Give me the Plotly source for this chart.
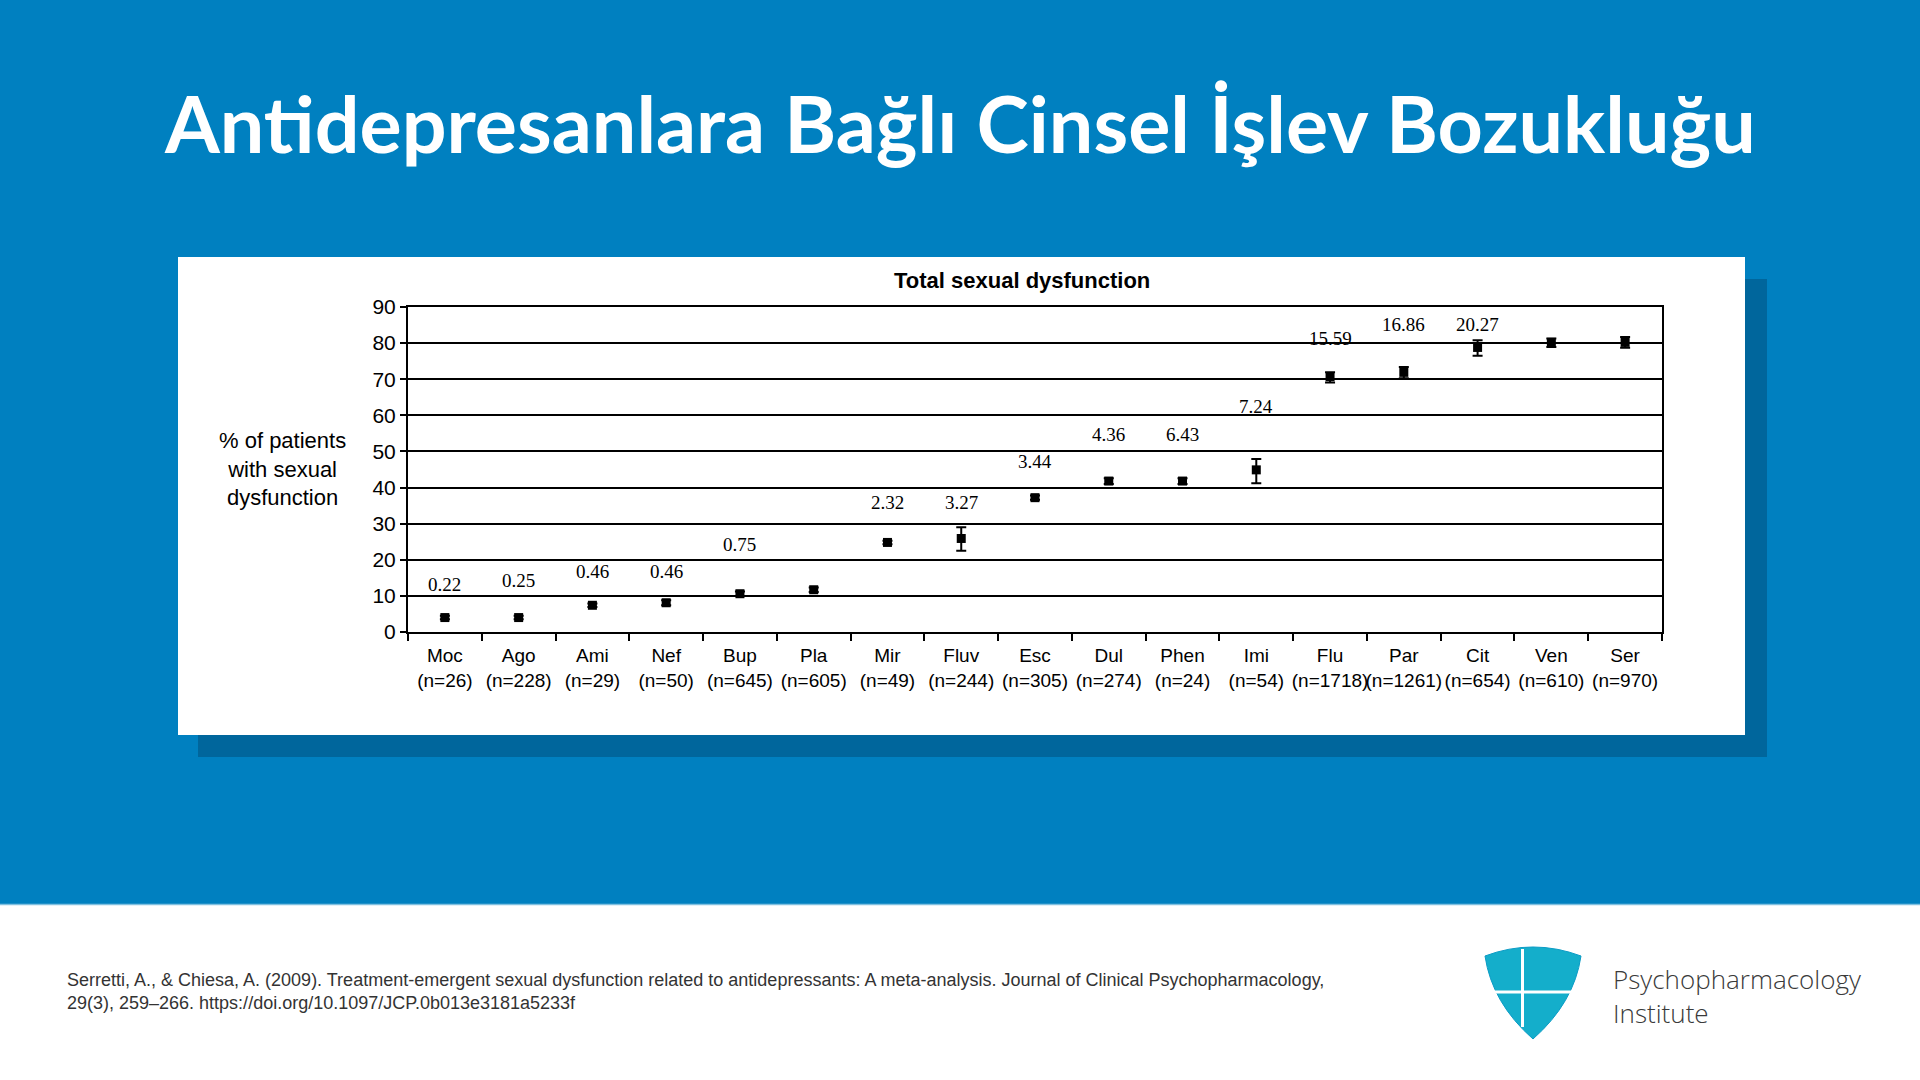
import plotly.graph_objects as go

# ---------------- data ----------------
drugs = ["Moc", "Ago", "Ami", "Nef", "Bup", "Pla", "Mir", "Fluv", "Esc",
         "Dul", "Phen", "Imi", "Flu", "Par", "Cit", "Ven", "Ser"]
n_patients = [26, 228, 29, 50, 645, 605, 49, 244, 305, 274, 24, 54,
              1718, 1261, 654, 610, 970]
pct = [4.0, 4.0, 7.4, 8.1, 10.6, 11.7, 24.8, 25.9, 37.2, 41.8, 41.8, 44.9,
       70.7, 71.9, 78.8, 80.2, 80.2]
err_plus = [0.5, 0.5, 0.5, 0.7, 0.6, 0.6, 0.5, 3.1, 0.6, 0.8, 0.8, 3.0,
            1.2, 1.5, 2.0, 1.1, 1.5]
err_minus = [0.5, 0.5, 0.5, 0.7, 0.6, 0.6, 0.5, 3.4, 0.6, 0.8, 0.8, 3.7,
             1.6, 1.6, 2.3, 1.3, 1.5]
odds_labels = ["0.22", "0.25", "0.46", "0.46", "0.75", "", "2.32", "3.27",
               "3.44", "4.36", "6.43", "7.24", "15.59", "16.86", "20.27",
               "24.82", "27.43"]
label_y = [13.1, 14.2, 16.7, 16.7, 24.3, None, 35.8, 35.8, 47.1, 54.8, 54.8,
           62.4, 81.4, 85.1, 85.1, 92.7, 92.7]
y_ticks = [0, 10, 20, 30, 40, 50, 60, 70, 80, 90]

categories = [f"{d}<br>(n={n})" for d, n in zip(drugs, n_patients)]

# ---------------- layout geometry (pixels) ----------------
W, H = 1920, 1080
L, R, T, B = 408, 1662, 307, 632
PW, PH = R - L, B - T


def px(x):
    return (x - L) / PW


def py(y):
    return (B - y) / PH


BLUE = "#0080C0"
SHADOW = "#00669C"

fig = go.Figure()
fig.add_trace(go.Scatter(
    x=categories, y=pct, mode="markers",
    marker=dict(symbol="square", size=9, color="black"),
    error_y=dict(type="data", array=err_plus, arrayminus=err_minus,
                 color="black", thickness=2, width=5, symmetric=False),
    showlegend=False, hoverinfo="x+y",
))

shapes = [
    # blue background
    dict(type="rect", xref="paper", yref="paper", x0=px(-5), x1=px(W + 5),
         y0=py(-5), y1=py(904), fillcolor=BLUE, line_width=0, layer="below"),
    dict(type="line", xref="paper", yref="paper", x0=px(-5), x1=px(W + 5),
         y0=py(904.5), y1=py(904.5), line=dict(color="#7fc0e0", width=1.5),
         layer="below"),
    # shadow
    dict(type="rect", xref="paper", yref="paper", x0=px(198), x1=px(1767),
         y0=py(279), y1=py(757), fillcolor=SHADOW, line_width=0, layer="below"),
    # white panel
    dict(type="rect", xref="paper", yref="paper", x0=px(178), x1=px(1745),
         y0=py(257), y1=py(735), fillcolor="white", line_width=0, layer="below"),
]


def pt(x, y):
    return f"{px(x):.5f},{py(y):.5f}"


# logo shield
shield = ("M " + pt(1485, 956) + " Q " + pt(1533, 938) + " " + pt(1581, 956)
          + " Q " + pt(1574, 1003) + " " + pt(1533, 1039)
          + " Q " + pt(1492, 1003) + " " + pt(1485, 956) + " Z")
shapes.append(dict(type="path", xref="paper", yref="paper", path=shield,
                   fillcolor="#14AECB", line=dict(color="#0C9CC6", width=1)))
shapes.append(dict(type="line", xref="paper", yref="paper",
                   x0=px(1522.5), x1=px(1522.5), y0=py(949), y1=py(1027),
                   line=dict(color="white", width=3)))
shapes.append(dict(type="line", xref="paper", yref="paper",
                   x0=px(1488), x1=px(1577), y0=py(992), y1=py(992),
                   line=dict(color="white", width=3)))

annotations = []
for cat, lab, ly in zip(categories, odds_labels, label_y):
    if lab and ly is not None:
        annotations.append(dict(x=cat, y=ly, xref="x", yref="y", text=lab,
                                showarrow=False, yanchor="middle",
                                font=dict(family="Liberation Serif", size=19,
                                          color="black")))

annotations += [
    dict(x=px(960), y=py(122), xref="paper", yref="paper",
         text="Antidepresanlara Bağlı Cinsel İşlev Bozukluğu", showarrow=False,
         font=dict(family="Lato", size=79, color="white", weight=700),
         xanchor="center", yanchor="middle"),
    dict(x=px(1022), y=py(280), xref="paper", yref="paper",
         text="<b>Total sexual dysfunction</b>", showarrow=False,
         font=dict(family="Liberation Sans", size=22, color="black"),
         xanchor="center", yanchor="middle"),
    dict(x=px(282), y=py(469), xref="paper", yref="paper",
         text="% of patients<br>with sexual<br>dysfunction", showarrow=False,
         align="center",
         font=dict(family="Liberation Sans", size=22, color="black"),
         xanchor="center", yanchor="middle"),
    dict(x=px(65), y=py(991), xref="paper", yref="paper",
         text="Serretti, A., & Chiesa, A. (2009). Treatment-emergent sexual dysfunction related to antidepressants: A meta-analysis. Journal of Clinical Psychopharmacology,<br>29(3), 259–266. https://doi.org/10.1097/JCP.0b013e3181a5233f",
         showarrow=False, align="left",
         font=dict(family="Liberation Sans", size=18, color="#333333"),
         xanchor="left", yanchor="middle"),
    dict(x=px(1611), y=py(996), xref="paper", yref="paper",
         text="Psychopharmacology<br>Institute", showarrow=False, align="left",
         font=dict(family="Open Sans", size=26, color="#3a3a3a", weight=300),
         xanchor="left", yanchor="middle"),
]

fig.update_layout(
    width=W, height=H,
    margin=dict(l=L, r=W - R, t=T, b=H - B, pad=0),
    paper_bgcolor="white", plot_bgcolor="white",
    shapes=shapes, annotations=annotations,
    xaxis=dict(type="category", range=[-0.5, 16.5], showgrid=False,
               showline=True, linecolor="black", linewidth=2, mirror=True,
               ticks="outside", tickson="boundaries", ticklen=7,
               tickwidth=2, tickcolor="black", tickangle=0,
               ticklabelstandoff=5,
               tickfont=dict(family="Liberation Sans", size=19, color="black"),
               fixedrange=True),
    yaxis=dict(range=[0, 90], tickvals=y_ticks, showgrid=True,
               gridcolor="black", gridwidth=2, zeroline=False,
               showline=True, linecolor="black", linewidth=2, mirror=True,
               ticks="outside", ticklen=6, tickwidth=2, tickcolor="black",
               tickfont=dict(family="Liberation Sans", size=21, color="black"),
               fixedrange=True),
)

fig.write_html("out.html",
               config={"displayModeBar": False},
               post_script="document.body.style.margin='0';"
                           "document.body.style.overflow='hidden';")
